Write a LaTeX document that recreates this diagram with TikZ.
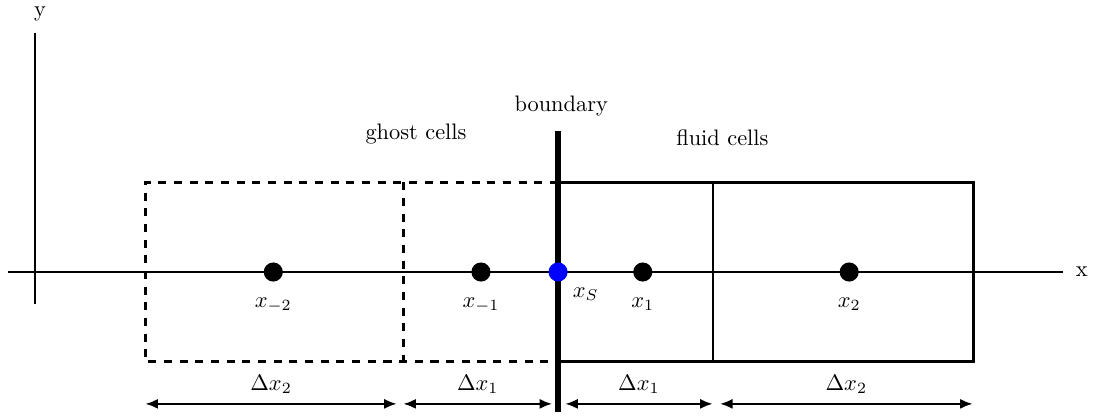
\documentclass[tikz,border=0pt]{standalone}
\usepackage{amsmath}
\usetikzlibrary{arrows.meta, calc, positioning}
\tikzset{
  axisline/.style   = {draw=black, line width=1.2pt},
  ghostcell/.style  = {draw=black, line width=1.2pt, dash pattern=on 3.6pt off 3.4pt},
  fluidcell/.style  = {draw=black, line width=1.2pt},
  wallline/.style   = {draw=black, line width=2.4pt},
  cellpt/.style     = {circle, fill=black, minimum size=3mm, inner sep=0pt},
  wallpt/.style     = {cellpt, fill=blue},
  ptlabel/.style    = {anchor=north, inner sep=1pt},
  cellhead/.style   = {inner sep=1pt},
  widtharrow/.style = {line width=1.1pt,
                       {Latex[length=2mm, width=1.6mm]}-{Latex[length=2mm, width=1.6mm]}},
  widthlabel/.style = {inner sep=1pt},
}

\begin{document}
\begin{tikzpicture}[x=1cm, y=1cm]
    \useasboundingbox (-0.55,-2.29) rectangle (16.67,4.27);
    % axes
    \coordinate (xaxl) at (-0.42,0);
    \coordinate (xaxr) at (16.14,0);
    \coordinate (yaxb) at (0,-0.50);
    \coordinate (yaxt) at (0,3.75);
    \draw[axisline] (xaxl) -- (xaxr);
    \draw[axisline] (yaxb) -- (yaxt);
    \node[cellhead] (xlab) at (16.43,0) {x};
    \node[cellhead] (ylab) at (0.08,4.05) {y};
    % cells
    \draw[ghostcell] (8.21,1.41) -- (1.73,1.41) -- (1.73,-1.41) -- (8.21,-1.41);
    \draw[ghostcell] (5.78,1.41) -- (5.78,-1.41);
    \draw[fluidcell] (8.21,-1.41) rectangle (10.64,1.41);
    \draw[fluidcell] (10.64,-1.41) rectangle (14.73,1.41);
    % boundary
    \coordinate (wallb) at (8.21,-2.20);
    \coordinate (wallt) at (8.21,2.21);
    \draw[wallline] (wallb) -- (wallt);
    \node[cellhead] (bdlab) at (8.26,2.61) {boundary};
    \node[cellhead] (ghlab) at (5.98,2.17) {ghost cells};
    \node[cellhead] (fllab) at (10.79,2.10) {fluid cells};
    % cell centres
    \node[cellpt] (xm2) at (3.74,0) {};
    \node[cellpt] (xm1) at (7.00,0) {};
    \node[wallpt] (xs)  at (8.21,0) {};
    \node[cellpt] (xp1) at (9.54,0) {};
    \node[cellpt] (xp2) at (12.78,0) {};
    \node[ptlabel] (lm2) at (3.74,-0.36) {$x_{-2}$};
    \node[ptlabel] (lm1) at (7.00,-0.36) {$x_{-1}$};
    \node[ptlabel, anchor=north west] (ls) at (8.40,-0.20) {$x_S$};
    \node[ptlabel] (lp1) at (9.54,-0.36) {$x_1$};
    \node[ptlabel] (lp2) at (12.78,-0.36) {$x_2$};
    % cell widths
    \coordinate (d1a) at (1.73,-2.07);
    \coordinate (d1b) at (5.68,-2.07);
    \coordinate (d2a) at (5.78,-2.07);
    \coordinate (d2b) at (8.12,-2.07);
    \coordinate (d3a) at (8.32,-2.07);
    \coordinate (d3b) at (10.64,-2.07);
    \coordinate (d4a) at (10.75,-2.07);
    \coordinate (d4b) at (14.72,-2.07);
    \draw[widtharrow] (d1a) -- node[widthlabel, above=3pt] {$\Delta x_2$} (d1b);
    \draw[widtharrow] (d2a) -- node[widthlabel, above=3pt] {$\Delta x_1$} (d2b);
    \draw[widtharrow] (d3a) -- node[widthlabel, above=3pt] {$\Delta x_1$} (d3b);
    \draw[widtharrow] (d4a) -- node[widthlabel, above=3pt] {$\Delta x_2$} (d4b);
  \end{tikzpicture}
\end{document}
